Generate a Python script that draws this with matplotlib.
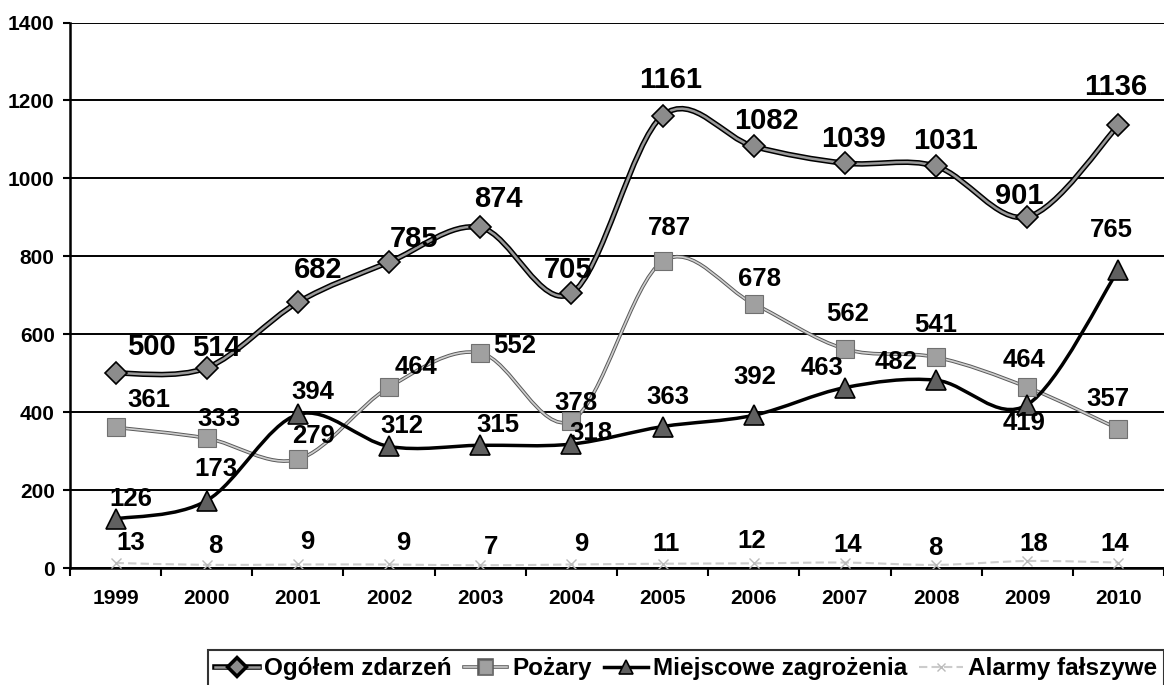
import numpy as np
import matplotlib
matplotlib.use("Agg")
import matplotlib.pyplot as plt
import matplotlib.patheffects as pe
from matplotlib.path import Path
from matplotlib.patches import PathPatch
from matplotlib.lines import Line2D

plt.rcParams['font.family'] = ['Liberation Sans', 'DejaVu Sans']

years = ["1999", "2000", "2001", "2002", "2003", "2004",
         "2005", "2006", "2007", "2008", "2009", "2010"]
ogolem = [500, 514, 682, 785, 874, 705, 1161, 1082, 1039, 1031, 901, 1136]
pozary = [361, 333, 279, 464, 552, 378, 787, 678, 562, 541, 464, 357]
miejscowe = [126, 173, 394, 312, 315, 318, 363, 392, 463, 482, 419, 765]
alarmy = [13, 8, 9, 9, 7, 9, 11, 12, 14, 8, 18, 14]
names = ["Ogółem zdarzeń", "Pożary", "Miejscowe zagrożenia", "Alarmy fałszywe"]

# label offsets in pixels (dx, dy up) relative to the marker
off_ogolem = [(36, 26), (10, 20), (20, 32), (25, 23), (18, 28), (-3, 23),
              (8, 36), (13, 25), (9, 24), (9, 25), (-8, 21), (-3, 38)]
off_pozary = [(33, 27), (12, 19), (16, 23), (27, 20), (34, 7), (5, 18),
              (7, 33), (6, 25), (3, 35), (0, 32), (-3, 27), (-10, 30)]
off_miejsc = [(15, 20), (9, 32), (15, 22), (13, 20), (18, 20), (20, 11),
              (5, 30), (1, 38), (-23, 20), (-40, 18), (-3, -18), (-7, 40)]
off_alarmy = [(15, 20), (9, 19), (9, 22), (14, 21), (11, 18), (10, 20),
              (3, 20), (-2, 22), (3, 18), (-1, 17), (7, 17), (-4, 19)]


def smooth_path(xs, ys):
    pts = np.column_stack([xs, ys]).astype(float)
    n = len(pts)
    verts = [pts[0]]
    codes = [Path.MOVETO]
    for i in range(n - 1):
        p0 = pts[i - 1] if i > 0 else pts[i]
        p1 = pts[i]
        p2 = pts[i + 1]
        p3 = pts[i + 2] if i + 2 < n else pts[i + 1]
        verts += [p1 + (p2 - p0) / 6, p2 - (p3 - p1) / 6, p2]
        codes += [Path.CURVE4] * 3
    return Path(verts, codes)


def main():
    fig = plt.figure(figsize=(11.64, 6.85), dpi=100)
    ax = fig.add_axes([70 / 1164, 117 / 685, 1 - 70 / 1164, 545.5 / 685])
    x = np.arange(len(years))

    styles = [
        dict(data=ogolem, offs=off_ogolem, fs=21, color='#9a9a9a', lw=1.8,
             pe=[pe.Stroke(linewidth=4.0, foreground='black'), pe.Normal()],
             marker='D', ms=11, mfc='#8c8c8c', mec='black', mew=1.2, ls='-'),
        dict(data=pozary, offs=off_pozary, fs=18.5, color='#cfcfcf', lw=1.2,
             pe=[pe.Stroke(linewidth=2.6, foreground='#5a5a5a'), pe.Normal()],
             marker='s', ms=13, mfc='#a0a0a0', mec='#707070', mew=0.8, ls='-'),
        dict(data=miejscowe, offs=off_miejsc, fs=18.5, color='black', lw=2.5,
             pe=None, marker='^', ms=14, mfc='#606060', mec='black', mew=1.2,
             ls='-'),
        dict(data=alarmy, offs=off_alarmy, fs=18.5, color='#cccccc', lw=1.5,
             pe=None, marker='x', ms=7, mfc='#bbbbbb', mec='#bbbbbb', mew=1.0,
             ls=(0, (4, 2))),
    ]

    handles = []
    for name, st in zip(names, styles):
        patch = PathPatch(smooth_path(x, st['data']), fill=False,
                          edgecolor=st['color'], lw=st['lw'],
                          linestyle=st['ls'], zorder=3)
        if st['pe']:
            patch.set_path_effects(st['pe'])
        ax.add_patch(patch)
        ax.plot(x, st['data'], linestyle='none', marker=st['marker'],
                ms=st['ms'], mfc=st['mfc'], mec=st['mec'], mew=st['mew'],
                zorder=4)
        for xi, v, (dx, dy) in zip(x, st['data'], st['offs']):
            ax.annotate(str(v), (xi, v), xytext=(dx, dy),
                        textcoords='offset pixels', ha='center', va='center',
                        fontsize=st['fs'], fontweight='bold', zorder=5)
        h = Line2D([], [], color=st['color'], lw=st['lw'], linestyle=st['ls'],
                   marker=st['marker'], ms=st['ms'] * 0.75, mfc=st['mfc'],
                   mec=st['mec'], mew=st['mew'])
        if st['pe']:
            h.set_path_effects(st['pe'])
        handles.append(h)

    ax.set_xlim(-0.5, 11.5)
    ax.set_ylim(0, 1400)
    ax.set_yticks(np.arange(0, 1401, 200))
    ax.set_xticks(np.arange(-0.5, 11.6, 1))
    ax.set_xticklabels([])
    ax.set_xticks(x, minor=True)
    ax.set_xticklabels(years, minor=True, fontsize=15, fontweight='bold')
    ax.tick_params(axis='x', which='major', length=6, width=1.5,
                   direction='out')
    ax.tick_params(axis='x', which='minor', length=0, pad=15)
    ax.tick_params(axis='y', length=5, width=1.5, pad=6, labelsize=15)
    for lab in ax.get_yticklabels():
        lab.set_fontweight('bold')
    ax.yaxis.grid(True, color='black', lw=1.4)
    ax.set_axisbelow(True)
    for s in ['top', 'right']:
        ax.spines[s].set_visible(False)
    ax.spines['left'].set_linewidth(1.8)
    ax.spines['bottom'].set_linewidth(1.8)

    leg = fig.legend(handles, names, loc='lower left',
                     bbox_to_anchor=(208 / 1164, -0.004), ncol=4,
                     fontsize=17.5, frameon=True, fancybox=False,
                     handlelength=1.8, handletextpad=0.2, columnspacing=0.5,
                     borderpad=0.3, borderaxespad=0)
    leg.get_frame().set_edgecolor('black')
    leg.get_frame().set_linewidth(1.5)
    for t in leg.get_texts():
        t.set_fontweight('bold')

    fig.savefig("out.png", dpi=100)


if __name__ == "__main__":
    main()
